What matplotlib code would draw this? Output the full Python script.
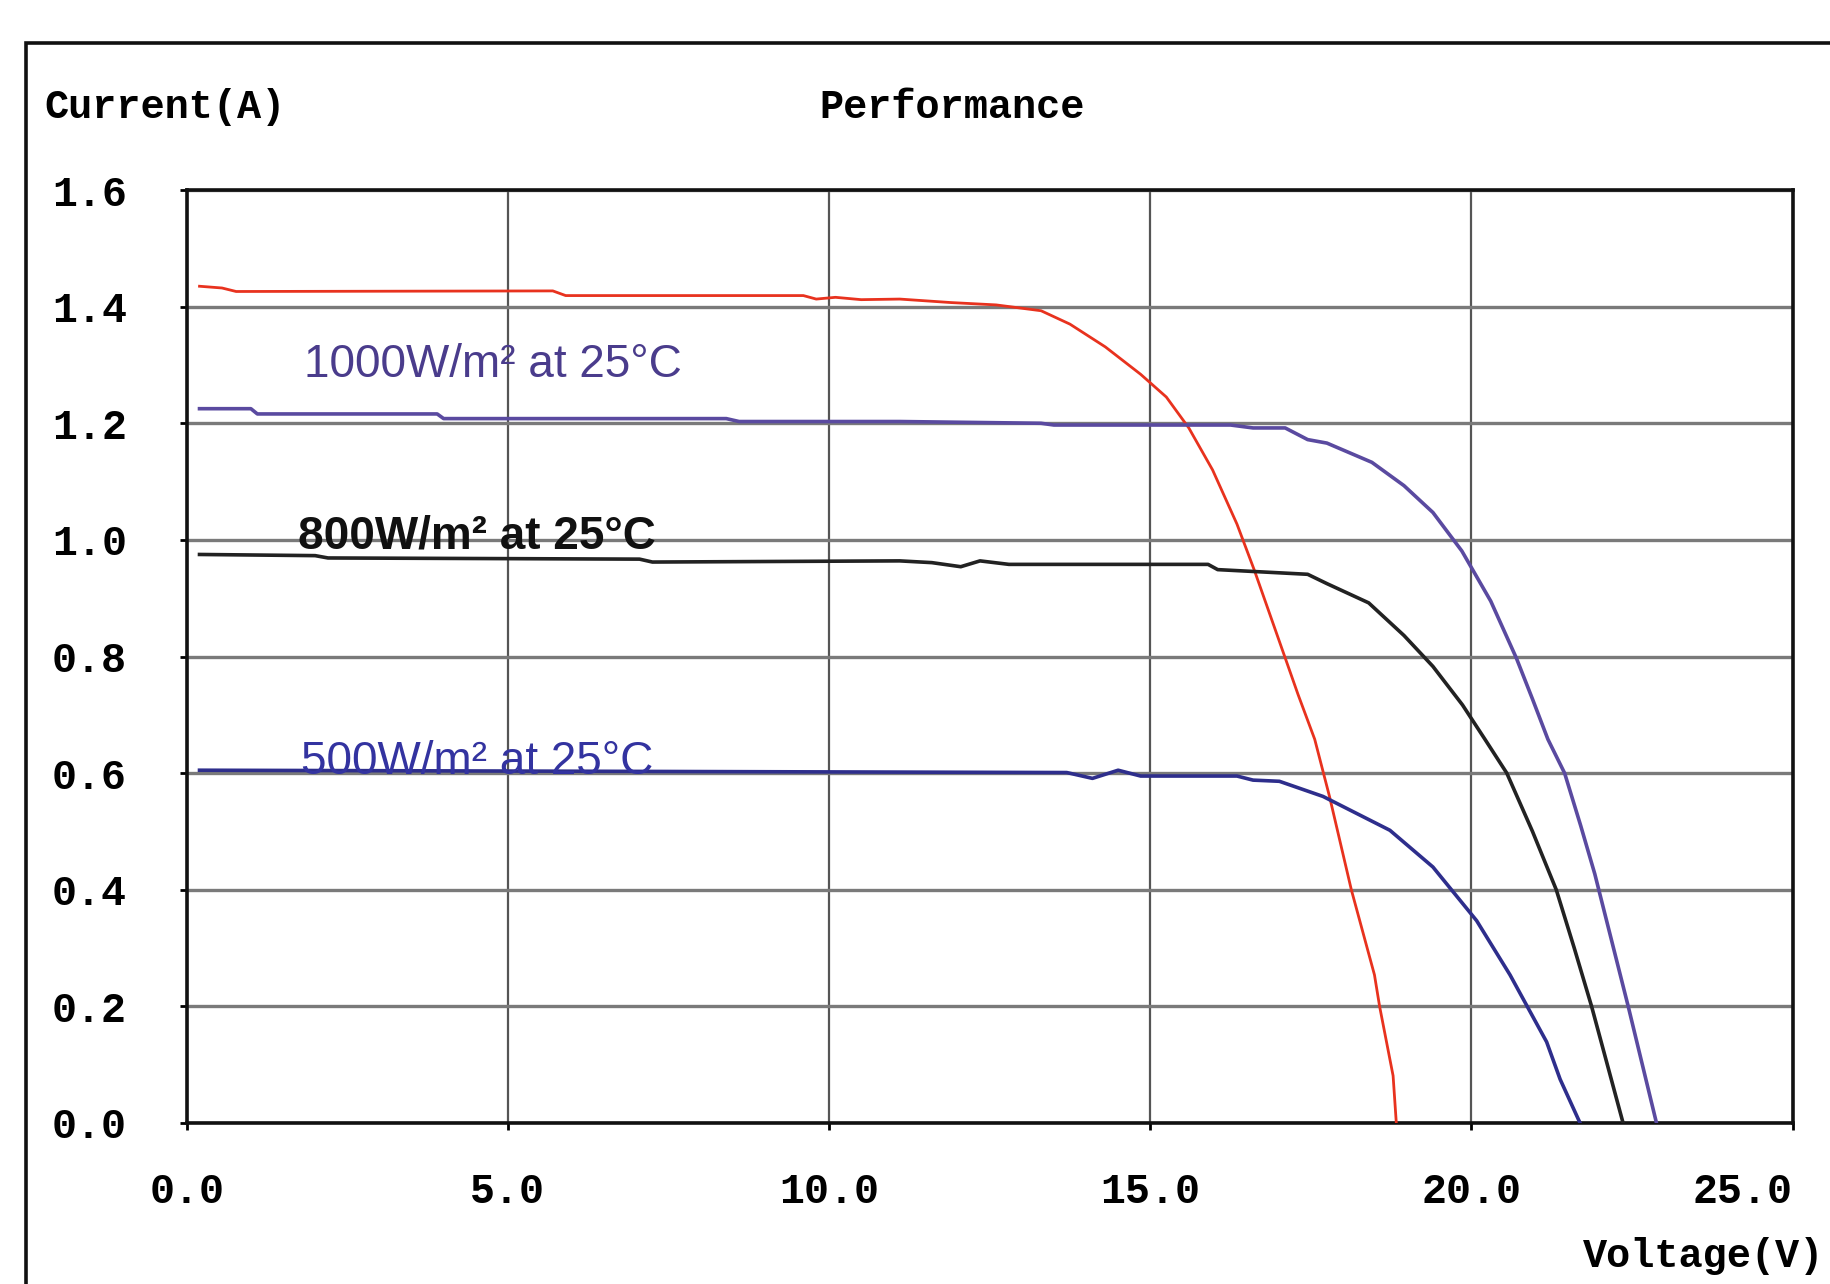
import matplotlib
matplotlib.use('Agg')
import matplotlib.pyplot as plt
from matplotlib.patches import Rectangle

# I-V curves
v_red = [0.2, 0.55, 0.77, 5.7, 5.9, 9.6, 9.8, 10.1, 10.5, 11.1, 11.9, 12.6, 13.3, 13.75,
         14.3, 14.85, 15.25, 15.6, 15.97, 16.35, 16.62, 17.0, 17.3, 17.56, 17.79, 18.13,
         18.49, 18.57, 18.78, 18.83]
i_red = [1.435, 1.432, 1.426, 1.427, 1.419, 1.419, 1.413, 1.416, 1.412, 1.413, 1.407, 1.403,
         1.393, 1.370, 1.331, 1.284, 1.245, 1.192, 1.120, 1.027, 0.948, 0.829, 0.735, 0.658,
         0.560, 0.400, 0.254, 0.200, 0.081, 0.0]

v_1000 = [0.2, 1.0, 1.1, 3.9, 4.0, 8.4, 8.6, 11.1, 13.3, 13.5, 16.25, 16.6, 17.1, 17.45,
          17.75, 18.45, 18.95, 19.4, 19.85, 20.3, 20.7, 20.95, 21.19, 21.45, 21.7, 21.92,
          22.44, 22.88]
i_1000 = [1.225, 1.225, 1.216, 1.216, 1.208, 1.208, 1.203, 1.203, 1.200, 1.197, 1.197, 1.192,
          1.192, 1.172, 1.166, 1.133, 1.093, 1.047, 0.981, 0.895, 0.797, 0.727, 0.658, 0.600,
          0.510, 0.427, 0.200, 0.0]

v_800 = [0.2, 2.0, 2.2, 7.05, 7.25, 11.1, 11.6, 12.05, 12.35, 12.8, 15.9, 16.05, 17.45,
         17.75, 18.4, 18.95, 19.4, 19.86, 20.21, 20.55, 20.95, 21.32, 21.6, 21.87, 22.36]
i_800 = [0.975, 0.973, 0.969, 0.967, 0.962, 0.964, 0.961, 0.954, 0.964, 0.958, 0.958, 0.949,
         0.941, 0.925, 0.892, 0.836, 0.783, 0.717, 0.658, 0.600, 0.500, 0.400, 0.300, 0.200, 0.0]

v_500 = [0.2, 13.7, 14.1, 14.5, 14.85, 16.35, 16.6, 17.01, 17.69, 18.73, 19.4, 20.08, 20.6,
         21.17, 21.38, 21.69]
i_500 = [0.605, 0.601, 0.591, 0.605, 0.595, 0.595, 0.588, 0.586, 0.560, 0.502, 0.439, 0.347,
         0.254, 0.139, 0.075, 0.0]

x_ticks = [0, 5, 10, 15, 20, 25]
y_ticks = [0.0, 0.2, 0.4, 0.6, 0.8, 1.0, 1.2, 1.4, 1.6]

mono = 'Liberation Mono'

fig = plt.figure(figsize=(18.3, 12.84), dpi=100)
ax = fig.add_axes([0.102, 0.1254, 0.8776, 0.7266])

ax.plot(v_red, i_red, color='#e8321e', lw=2.0, zorder=3)
ax.plot(v_1000, i_1000, color='#5a4aa0', lw=2.6, zorder=3)
ax.plot(v_800, i_800, color='#222222', lw=2.6, zorder=3)
ax.plot(v_500, i_500, color='#2e2e8c', lw=2.6, zorder=3)

# curve labels
ax.text(1.82, 1.30, '1000W/m² at 25°C', color='#4a3c8c', fontsize=33,
        family='Liberation Sans', va='center', ha='left')
ax.text(1.73, 1.005, '800W/m² at 25°C', color='#111111', fontsize=33,
        family='Liberation Sans', fontweight='bold', va='center', ha='left')
ax.text(1.78, 0.619, '500W/m² at 25°C', color='#3333a0', fontsize=33,
        family='Liberation Sans', va='center', ha='left')

ax.set_xlim(0, 25)
ax.set_ylim(0, 1.6)
ax.set_xticks(x_ticks)
ax.set_yticks(y_ticks)
ax.set_xticklabels([f'{t:.1f}' for t in x_ticks], family=mono, fontweight='bold', fontsize=30)
ax.set_yticklabels([f'{t:.1f}' for t in y_ticks], family=mono, fontweight='bold', fontsize=30)
# last x label sits at the right edge of the picture, keep it inside
ax.get_xticklabels()[-1].set_horizontalalignment('right')
ax.tick_params(axis='y', length=5, width=2, pad=38)
ax.tick_params(axis='x', length=5, width=2, pad=30)

ax.xaxis.grid(True, color='#555555', lw=1.6)
ax.yaxis.grid(True, color='#7a7a7a', lw=2.4)
ax.set_axisbelow(True)
for s in ax.spines.values():
    s.set_linewidth(2.6)
    s.set_color('#111111')

# outer frame, runs off the right and bottom edges
fig.add_artist(Rectangle((0.0142, -0.2), 1.2, 0.9665 + 0.2, transform=fig.transFigure,
                         fill=False, lw=2.6, edgecolor='#111111'))

fig.text(0.024, 0.9167, 'Current(A)', family=mono, fontweight='bold', fontsize=29,
         va='center', ha='left')
fig.text(0.52, 0.9167, 'Performance', family=mono, fontweight='bold', fontsize=29,
         va='center', ha='center')
fig.text(0.997, 0.022, 'Voltage(V)', family=mono, fontweight='bold', fontsize=29,
         va='center', ha='right')

fig.savefig('out.png', dpi=100)
